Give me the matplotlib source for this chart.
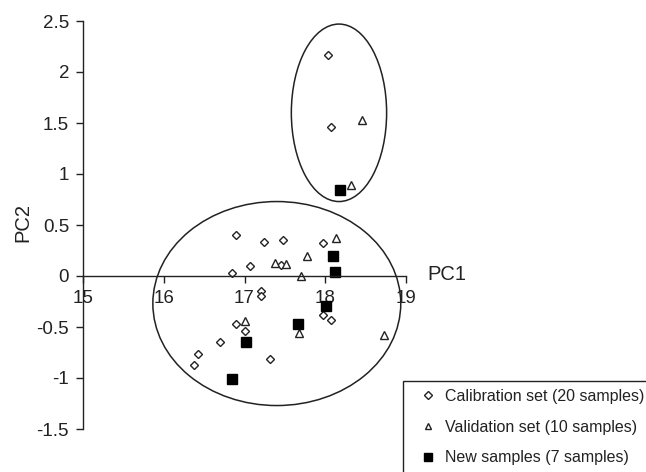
import matplotlib
matplotlib.use("Agg")
import matplotlib.pyplot as plt
from matplotlib.patches import Ellipse, Rectangle
from matplotlib.lines import Line2D

plt.rcParams['font.family'] = ['Liberation Sans', 'DejaVu Sans']

# calibration set (diamonds)
cal_x = [16.89, 17.24, 17.48, 17.97, 17.07, 16.85, 17.45, 17.21, 17.21, 17.97,
         18.07, 16.90, 17.00, 16.70, 16.43, 16.37, 17.32, 18.04, 18.07]
cal_y = [0.40, 0.33, 0.35, 0.32, 0.095, 0.03, 0.11, -0.15, -0.20, -0.38,
         -0.43, -0.47, -0.54, -0.65, -0.76, -0.87, -0.81, 2.17, 1.46]

# validation set (triangles)
val_x = [18.13, 17.77, 17.38, 17.52, 17.70, 17.00, 17.68, 18.73, 18.32, 18.46]
val_y = [0.37, 0.20, 0.13, 0.12, 0.00, -0.44, -0.56, -0.58, 0.89, 1.53]

# new samples (squares)
new_x = [18.09, 18.12, 18.01, 17.66, 17.02, 16.85, 18.18]
new_y = [0.20, 0.04, -0.29, -0.47, -0.65, -1.01, 0.84]

xticks = [15, 16, 17, 18, 19]
yticks = [-1.5, -1, -0.5, 0, 0.5, 1, 1.5, 2, 2.5]
ytick_labels = ['-1.5', '-1', '-0.5', '0', '0.5', '1', '1.5', '2', '2.5']

fig = plt.figure(figsize=(6.46, 4.72), dpi=100)
W, H = 646, 472
ax = fig.add_axes([83 / W, 1 - 429 / H, (406 - 83) / W, (429 - 21) / H])
ax.set_xlim(15, 19)
ax.set_ylim(-1.5, 2.5)

for s in ['top', 'right']:
    ax.spines[s].set_visible(False)
ax.spines['bottom'].set_position(('data', 0))
for s in ['left', 'bottom']:
    ax.spines[s].set_linewidth(1.0)
    ax.spines[s].set_color('#222222')

ax.set_xticks(xticks)
ax.set_xticklabels([str(t) for t in xticks])
ax.set_yticks(yticks)
ax.set_yticklabels(ytick_labels)
ax.tick_params(axis='both', direction='out', length=5, width=1, color='#222222',
               labelsize=13.5, labelcolor='#222222')
ax.tick_params(axis='x', pad=5)
ax.tick_params(axis='y', pad=5)

# groups
ax.add_patch(Ellipse((17.40, -0.27), 3.07, 2.0, fill=False, lw=1.1, ec='#222222'))
ax.add_patch(Ellipse((18.17, 1.60), 1.18, 1.74, fill=False, lw=1.1, ec='#222222'))

ax.plot(cal_x, cal_y, 'D', ms=4.2, mfc='white', mec='#222222', mew=1.0, ls='none')
ax.plot(val_x, val_y, '^', ms=5.5, mfc='white', mec='#222222', mew=1.0, ls='none')
ax.plot(new_x, new_y, 's', ms=7, mfc='black', mec='black', ls='none')

ax.text(19.26, 0.01, 'PC1', fontsize=14.5, va='center', ha='left', color='#222222',
        clip_on=False)
fig.text(23 / W, 1 - 223 / H, 'PC2', fontsize=14.5, rotation=90, va='center',
         ha='center', color='#222222')

handles = [
    Line2D([], [], marker='D', ms=3.8, mfc='white', mec='#222222', mew=1.0, ls='none'),
    Line2D([], [], marker='^', ms=4.5, mfc='white', mec='#222222', mew=1.0, ls='none'),
    Line2D([], [], marker='s', ms=6, mfc='black', mec='black', ls='none'),
]
labels = ['Calibration set (20 samples)', 'Validation set (10 samples)',
          'New samples (7 samples)']
leg = fig.legend(handles, labels, loc='upper left', bbox_to_anchor=(420 / W, 1 - 389 / H),
                 fontsize=11.5, frameon=False, labelspacing=0.98, handlelength=1.0,
                 handletextpad=0.55, borderpad=0, borderaxespad=0)
for t in leg.get_texts():
    t.set_color('#222222')

# legend box runs off the bottom/right edge of the figure
fig.patches.append(Rectangle((403 / W, -0.05), 0.5, (1 - 381 / H) + 0.05,
                             transform=fig.transFigure, fill=False, lw=1.0,
                             ec='#222222'))

fig.savefig('out.png', dpi=100)
